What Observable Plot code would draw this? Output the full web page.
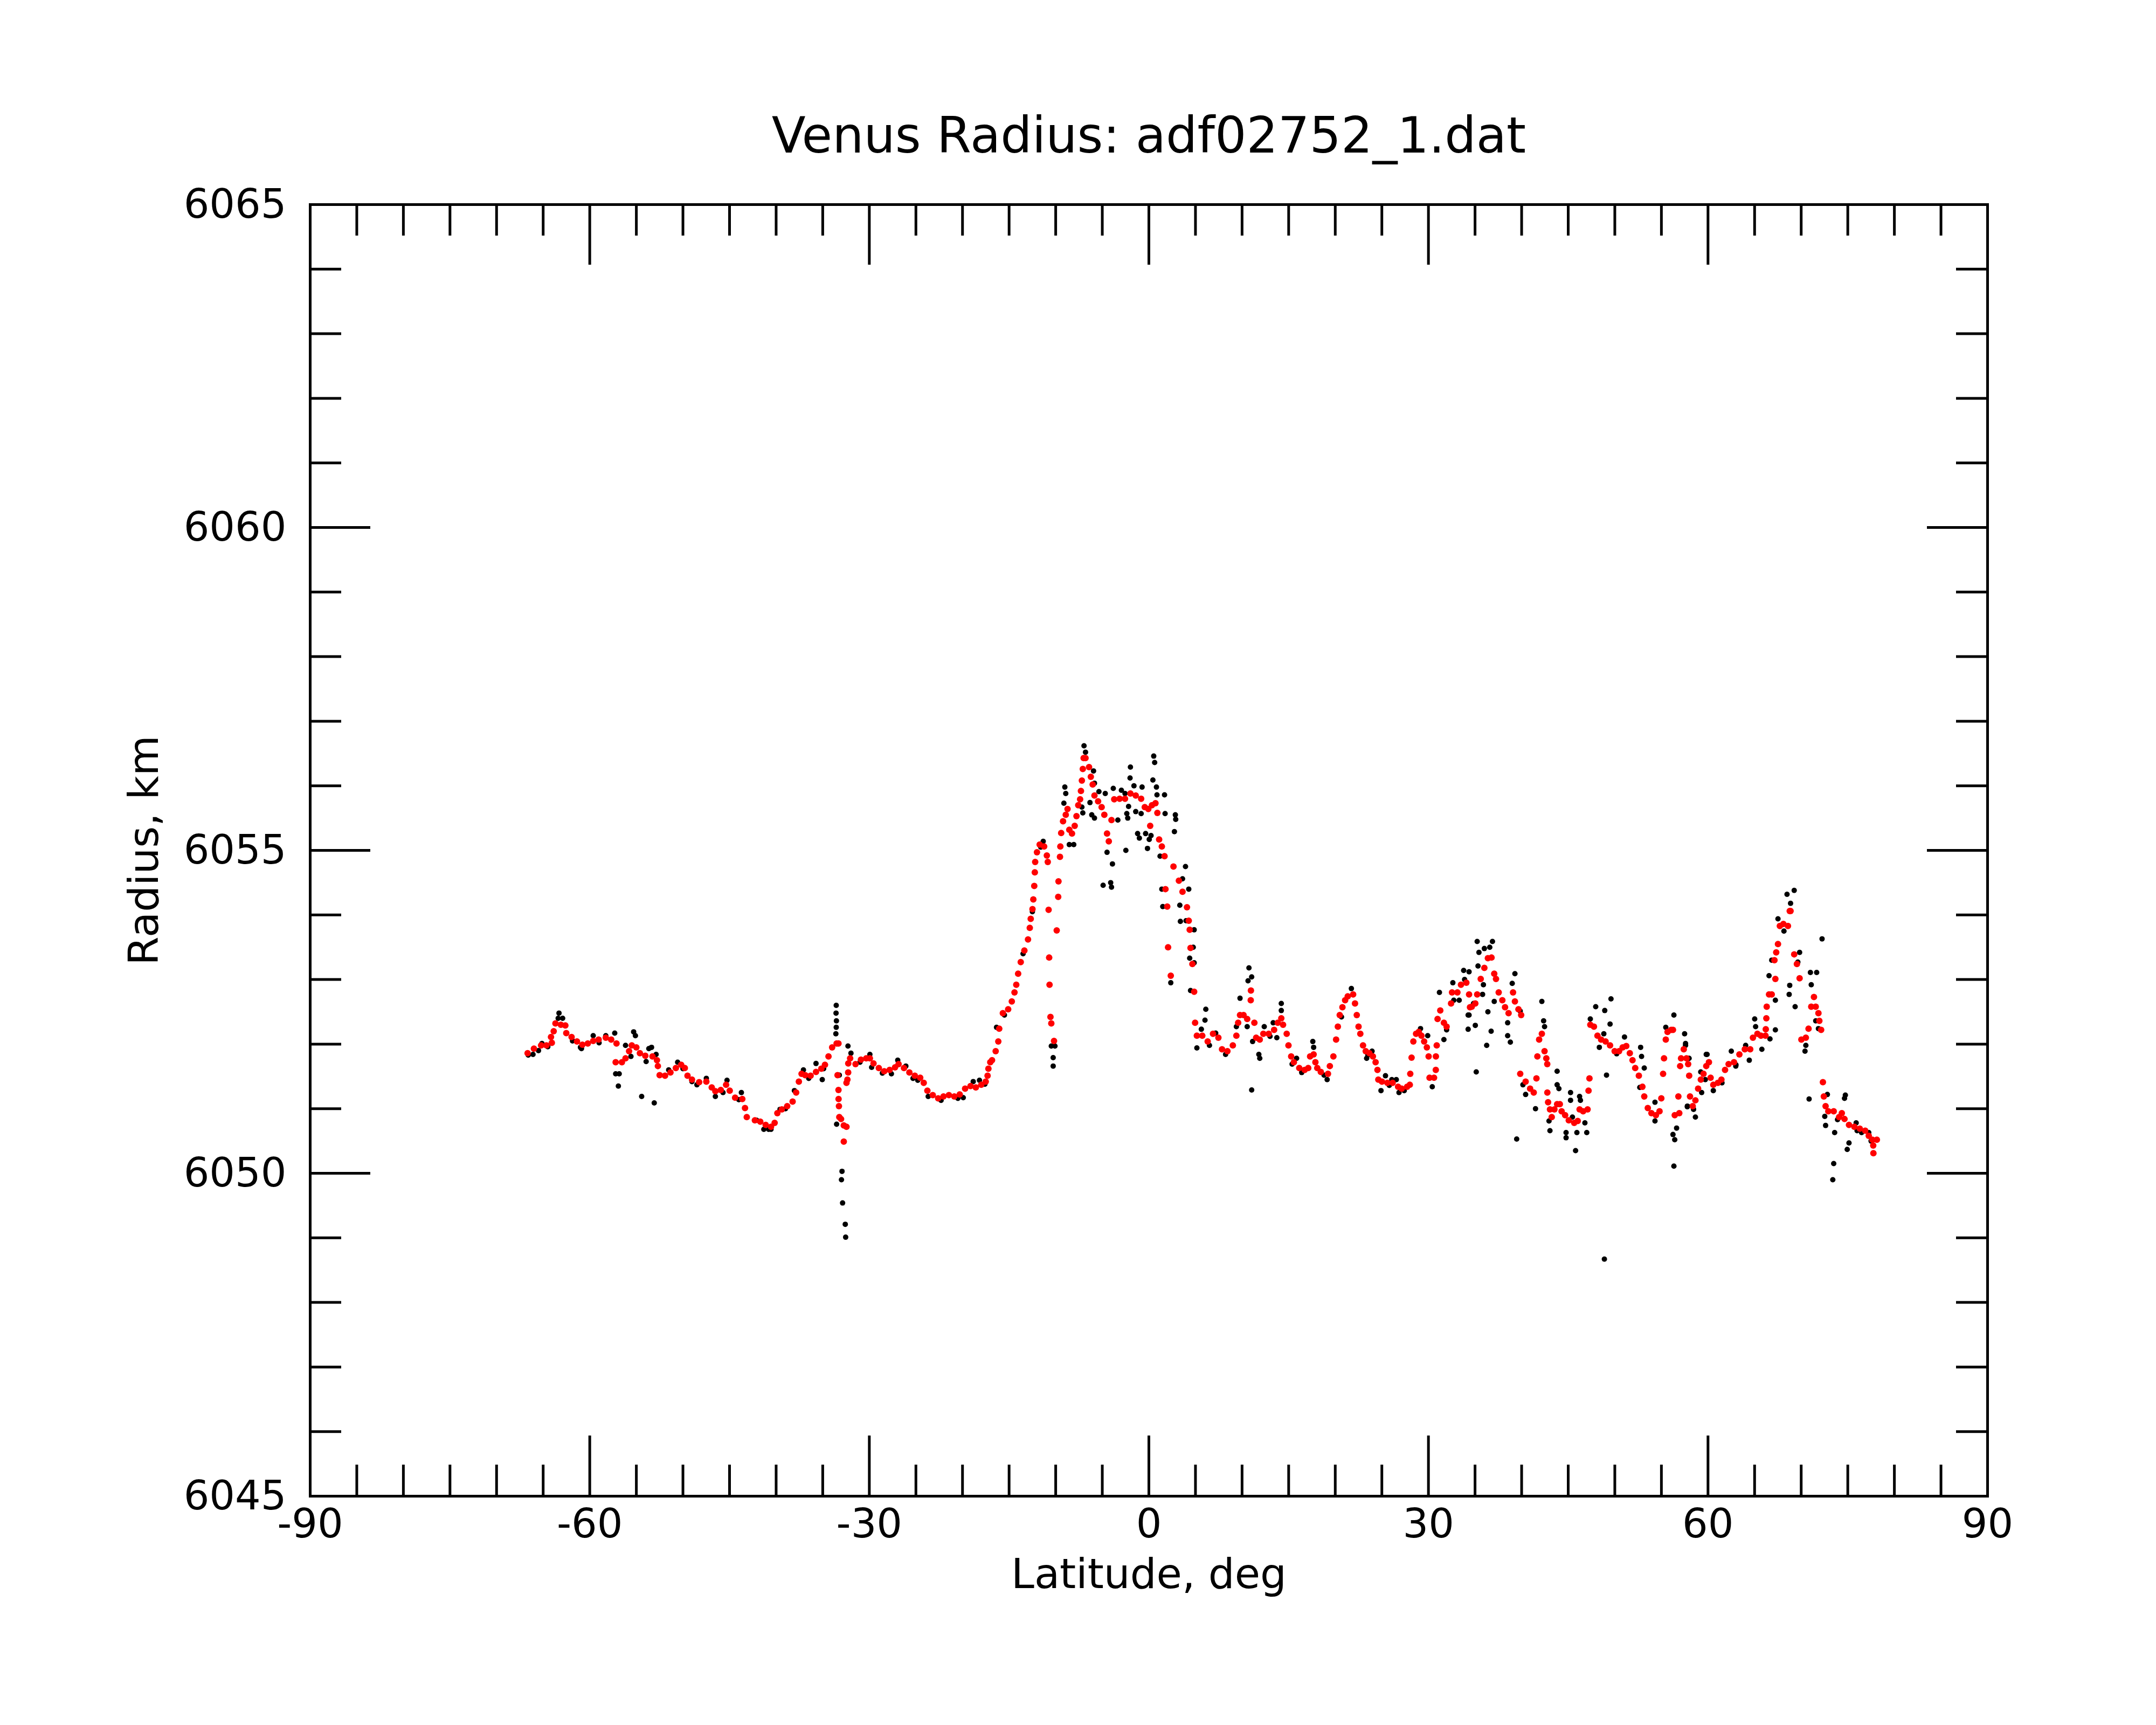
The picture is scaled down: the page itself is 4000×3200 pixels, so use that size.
<!DOCTYPE html>
<html>
<head>
<meta charset="utf-8">
<script src="https://cdn.jsdelivr.net/npm/d3@7"></script>
<script src="https://cdn.jsdelivr.net/npm/@observablehq/plot@0.6"></script>
<style>
  html, body { margin: 0; padding: 0; background: #ffffff; }
  svg { display: block; }
</style>
</head>
<body>
<script>
// ---------------- DATA ----------------
const titleText = "Venus Radius: adf02752_1.dat";
const xLabel = "Latitude, deg";
const yLabel = "Radius, km";

const xDomain = [-90, 90];
const yDomain = [6045, 6065];
const xMajorTicks = [-90, -60, -30, 0, 30, 60, 90];
const xMinorTicks = [-85, -80, -75, -70, -65, -55, -50, -45, -40, -35, -25, -20, -15, -10, -5, 5, 10, 15, 20, 25, 35, 40, 45, 50, 55, 65, 70, 75, 80, 85];
const yMajorTicks = [6045, 6050, 6055, 6060, 6065];
const yMinorTicks = [6046, 6047, 6048, 6049, 6051, 6052, 6053, 6054, 6056, 6057, 6058, 6059, 6061, 6062, 6063, 6064];

// smoothed radius (red) : [latitude, radius]
const redSmoothed = [
  [-66.67, 6051.86], [-65.99, 6051.93], [-65.22, 6051.98], [-64.65, 6051.98], [-64.16, 6052.11],
  [-64.07, 6052.02], [-63.87, 6052.20], [-63.68, 6052.32], [-63.10, 6052.30], [-62.62, 6052.29],
  [-62.52, 6052.17], [-61.95, 6052.11], [-61.37, 6052.04], [-60.79, 6051.99], [-60.21, 6052.01],
  [-59.63, 6052.05], [-59.05, 6052.07], [-58.28, 6052.10], [-57.70, 6052.07], [-57.13, 6052.01],
  [-57.22, 6051.72], [-56.55, 6051.72], [-56.16, 6051.78], [-55.78, 6051.89], [-55.49, 6051.98],
  [-55.00, 6051.95], [-54.62, 6051.86], [-54.04, 6051.82], [-53.27, 6051.81], [-52.79, 6051.75],
  [-52.69, 6051.66], [-52.50, 6051.52], [-51.92, 6051.51], [-51.34, 6051.56], [-50.76, 6051.63],
  [-50.19, 6051.68], [-49.80, 6051.63], [-49.51, 6051.51], [-49.03, 6051.45], [-48.26, 6051.41],
  [-47.49, 6051.42], [-46.91, 6051.33], [-46.52, 6051.27], [-45.94, 6051.29], [-45.37, 6051.37],
  [-44.98, 6051.28], [-44.40, 6051.17], [-43.63, 6051.15], [-43.34, 6051.01], [-43.15, 6050.87],
  [-42.28, 6050.82], [-41.70, 6050.80], [-41.12, 6050.75], [-40.55, 6050.72], [-40.16, 6050.78],
  [-39.87, 6050.93], [-39.39, 6050.99], [-38.81, 6051.04], [-38.23, 6051.11], [-37.85, 6051.25],
  [-37.56, 6051.42], [-37.27, 6051.54], [-36.88, 6051.52], [-36.30, 6051.51], [-35.72, 6051.57],
  [-35.15, 6051.62], [-34.76, 6051.68], [-34.38, 6051.81], [-33.99, 6051.95], [-33.51, 6052.01],
  [-33.31, 6052.01], [-33.41, 6051.52], [-33.31, 6051.29], [-33.30, 6051.15], [-33.26, 6051.04],
  [-33.22, 6050.87], [-33.03, 6050.84], [-32.74, 6050.74], [-32.45, 6050.72], [-32.74, 6050.49],
  [-32.45, 6051.40], [-32.35, 6051.45], [-32.27, 6051.56], [-32.26, 6051.70], [-32.06, 6051.78],
  [-31.48, 6051.69], [-30.90, 6051.76], [-30.33, 6051.78], [-29.94, 6051.78], [-29.55, 6051.70],
  [-28.98, 6051.63], [-28.40, 6051.58], [-27.82, 6051.60], [-27.24, 6051.64], [-26.86, 6051.69],
  [-26.28, 6051.63], [-25.70, 6051.56], [-25.12, 6051.51], [-24.54, 6051.48], [-24.16, 6051.40],
  [-23.77, 6051.28], [-23.19, 6051.21], [-22.61, 6051.16], [-22.04, 6051.19], [-21.46, 6051.21],
  [-20.88, 6051.19], [-20.30, 6051.22], [-19.72, 6051.31], [-19.14, 6051.35], [-18.57, 6051.33],
  [-17.99, 6051.37], [-17.51, 6051.42], [-17.31, 6051.51], [-17.22, 6051.62], [-17.02, 6051.72],
  [-16.83, 6051.75], [-16.44, 6051.89], [-16.16, 6052.04], [-16.06, 6052.24], [-15.67, 6052.48],
  [-15.10, 6052.54], [-14.71, 6052.66], [-14.42, 6052.80], [-14.23, 6052.92], [-14.03, 6053.09],
  [-13.75, 6053.27], [-13.36, 6053.45], [-12.97, 6053.62], [-12.78, 6053.80], [-12.68, 6053.94],
  [-12.49, 6054.09], [-12.40, 6054.24], [-12.30, 6054.45], [-12.24, 6054.66], [-12.20, 6054.82],
  [-12.01, 6054.97], [-11.72, 6055.09], [-11.24, 6055.06], [-10.95, 6054.92], [-10.85, 6054.82],
  [-10.76, 6054.08], [-10.70, 6053.34], [-10.66, 6052.92], [-10.56, 6052.42], [-10.47, 6052.32],
  [-10.18, 6052.05], [-9.89, 6053.76], [-9.73, 6054.28], [-9.70, 6054.52], [-9.54, 6054.90],
  [-9.50, 6055.06], [-9.41, 6055.27], [-9.21, 6055.45], [-8.92, 6055.55], [-8.73, 6055.64],
  [-8.54, 6055.32], [-8.25, 6055.26], [-7.96, 6055.38], [-7.77, 6055.53], [-7.58, 6055.70],
  [-7.38, 6055.79], [-7.29, 6055.92], [-7.19, 6056.08], [-7.09, 6056.26], [-7.00, 6056.43],
  [-6.80, 6056.43], [-6.42, 6056.29], [-6.23, 6056.14], [-6.03, 6056.02], [-5.84, 6055.85],
  [-5.45, 6055.76], [-5.07, 6055.67], [-4.78, 6055.55], [-4.49, 6055.26], [-4.30, 6055.14],
  [-4.01, 6055.47], [-3.72, 6055.79], [-3.14, 6055.80], [-2.56, 6055.80], [-1.98, 6055.88],
  [-1.41, 6055.85], [-0.83, 6055.80], [-0.44, 6055.67], [-0.06, 6055.64], [0.14, 6055.38],
  [0.33, 6055.70], [0.71, 6055.73], [0.91, 6055.58], [1.10, 6055.17], [1.39, 6055.06],
  [1.68, 6054.91], [1.78, 6054.40], [1.97, 6054.13], [2.06, 6053.50], [2.35, 6053.06],
  [2.64, 6054.75], [3.22, 6054.53], [3.61, 6054.36], [4.09, 6054.12], [4.28, 6053.91],
  [4.38, 6053.77], [4.47, 6053.49], [4.67, 6053.24], [4.86, 6052.81], [4.96, 6052.33],
  [5.15, 6052.13], [5.73, 6052.13], [6.31, 6052.04], [6.88, 6052.16], [7.46, 6052.10],
  [7.85, 6051.92], [8.43, 6051.89], [9.01, 6051.98], [9.39, 6052.13], [9.58, 6052.33],
  [9.78, 6052.45], [10.16, 6052.45], [10.55, 6052.39], [10.93, 6052.68], [10.95, 6052.83],
  [11.32, 6052.33], [11.51, 6052.10], [11.90, 6052.07], [12.28, 6052.16], [12.86, 6052.16],
  [13.44, 6052.22], [13.83, 6052.33], [14.21, 6052.40], [14.40, 6052.30], [14.79, 6052.16],
  [14.98, 6051.98], [15.27, 6051.81], [15.56, 6051.72], [16.14, 6051.63], [16.72, 6051.60],
  [17.10, 6051.63], [17.30, 6051.81], [17.68, 6051.84], [17.87, 6051.72], [18.07, 6051.63],
  [18.45, 6051.57], [19.22, 6051.54], [19.42, 6051.66], [19.80, 6051.81], [20.09, 6052.07],
  [20.28, 6052.27], [20.48, 6052.45], [20.77, 6052.57], [21.06, 6052.68], [21.34, 6052.74],
  [21.92, 6052.77], [22.12, 6052.63], [22.31, 6052.45], [22.50, 6052.27], [22.69, 6052.16],
  [22.98, 6051.98], [23.27, 6051.89], [23.66, 6051.86], [24.04, 6051.81], [24.33, 6051.72],
  [24.53, 6051.60], [24.62, 6051.45], [25.01, 6051.42], [25.59, 6051.40], [26.16, 6051.40],
  [26.74, 6051.34], [27.13, 6051.31], [27.71, 6051.34], [28.00, 6051.37], [28.05, 6051.54],
  [28.19, 6051.79], [28.38, 6052.04], [28.67, 6052.16], [28.96, 6052.19], [29.25, 6052.13],
  [29.54, 6052.04], [29.83, 6051.95], [30.02, 6051.81], [30.12, 6051.48], [30.60, 6051.48],
  [30.79, 6051.60], [30.80, 6051.81], [30.89, 6051.98], [30.98, 6052.39], [31.27, 6052.52],
  [31.66, 6052.33], [31.95, 6052.27], [32.43, 6052.63], [32.53, 6052.80], [33.11, 6052.80],
  [33.49, 6052.92], [34.07, 6052.95], [34.36, 6052.77], [34.46, 6052.57], [34.65, 6052.58],
  [35.03, 6052.63], [35.23, 6052.77], [35.61, 6053.01], [36.00, 6053.18], [36.38, 6053.33],
  [36.77, 6053.34], [37.06, 6053.09], [37.25, 6053.01], [37.54, 6052.80], [37.93, 6052.68],
  [38.22, 6052.57], [38.60, 6052.48], [39.08, 6052.80], [39.28, 6052.66], [39.66, 6052.54],
  [39.95, 6052.45], [39.85, 6051.54], [40.43, 6051.42], [40.91, 6051.31], [41.30, 6051.25],
  [41.59, 6051.47], [41.69, 6051.81], [41.88, 6052.07], [42.17, 6052.16], [42.46, 6051.89],
  [42.65, 6051.78], [42.75, 6051.69], [42.76, 6051.25], [42.84, 6051.10], [43.04, 6050.99],
  [43.23, 6050.87], [43.52, 6050.99], [43.81, 6051.07], [44.10, 6051.07], [44.29, 6050.96],
  [44.67, 6050.90], [45.06, 6050.82], [45.64, 6050.78], [46.02, 6050.81], [46.22, 6050.99],
  [46.60, 6050.96], [47.08, 6050.99], [47.18, 6051.28], [47.28, 6051.47], [47.37, 6052.30],
  [47.76, 6052.27], [48.14, 6052.13], [48.53, 6052.07], [49.01, 6052.04], [49.49, 6051.98],
  [49.98, 6051.89], [50.46, 6051.89], [50.84, 6051.95], [51.23, 6051.97], [51.61, 6051.86],
  [51.90, 6051.75], [52.19, 6051.63], [52.58, 6051.51], [52.96, 6051.34], [53.16, 6051.19],
  [53.54, 6051.01], [53.93, 6050.93], [54.41, 6050.90], [54.80, 6050.96], [54.99, 6051.16],
  [55.18, 6051.54], [55.28, 6051.78], [55.47, 6052.07], [55.66, 6052.19], [56.05, 6052.22],
  [56.24, 6052.22], [56.43, 6050.90], [56.82, 6051.19], [56.92, 6050.93], [57.01, 6051.66],
  [57.11, 6051.78], [57.40, 6051.92], [57.69, 6051.78], [57.87, 6051.69], [57.98, 6051.51],
  [58.07, 6051.19], [58.36, 6051.04], [58.65, 6051.13], [58.94, 6051.31], [59.23, 6051.45],
  [59.52, 6051.54], [59.81, 6051.66], [60.10, 6051.72], [60.28, 6051.48], [60.57, 6051.37],
  [61.06, 6051.40], [61.44, 6051.45], [61.83, 6051.60], [62.21, 6051.69], [62.79, 6051.72],
  [63.37, 6051.84], [63.95, 6051.92], [64.53, 6051.92], [64.82, 6052.10], [65.30, 6052.16],
  [65.68, 6052.13], [66.17, 6052.13], [66.20, 6052.23], [66.26, 6052.40], [66.30, 6052.58],
  [66.55, 6052.77], [66.84, 6052.77], [67.13, 6053.30], [67.23, 6053.01], [67.32, 6053.42],
  [67.51, 6053.55], [67.71, 6053.83], [68.09, 6053.86], [68.58, 6053.83], [68.77, 6054.06],
  [68.86, 6054.06], [69.25, 6053.39], [69.54, 6053.24], [69.83, 6053.02], [70.02, 6052.07],
  [70.50, 6052.10], [70.79, 6052.24], [71.08, 6052.58], [71.37, 6052.73], [71.56, 6052.58],
  [71.85, 6052.48], [71.95, 6052.36], [72.14, 6052.22], [72.33, 6051.41], [72.43, 6051.19],
  [72.62, 6051.04], [72.91, 6050.96], [73.49, 6050.96], [74.07, 6050.87], [74.36, 6050.93],
  [74.65, 6050.84], [75.13, 6050.75], [75.71, 6050.72], [76.29, 6050.69], [76.87, 6050.66],
  [77.25, 6050.58], [77.64, 6050.52], [78.12, 6050.52], [77.73, 6050.43], [77.75, 6050.31]
];

// raw radius (black) : [latitude, radius]
const blackRaw = [
  [-66.60, 6051.83], [-66.09, 6051.84], [-65.50, 6051.90], [-65.13, 6052.01], [-64.50, 6051.96],
  [-63.30, 6052.48], [-63.39, 6052.40], [-62.91, 6052.40], [-61.85, 6052.05], [-61.00, 6051.95],
  [-60.89, 6051.93], [-59.63, 6052.13], [-59.00, 6052.02], [-58.28, 6052.13], [-57.32, 6052.17],
  [-56.16, 6051.98], [-55.29, 6052.19], [-55.10, 6052.13], [-55.58, 6051.81], [-57.22, 6051.54],
  [-56.84, 6051.54], [-56.93, 6051.35], [-54.43, 6051.19], [-53.08, 6051.09], [-53.95, 6051.73],
  [-53.66, 6051.93], [-53.37, 6051.95], [-52.88, 6051.84], [-51.53, 6051.60], [-50.57, 6051.72],
  [-50.00, 6051.62], [-49.03, 6051.42], [-48.50, 6051.37], [-47.49, 6051.47], [-46.52, 6051.19],
  [-45.70, 6051.25], [-45.27, 6051.44], [-44.00, 6051.14], [-43.73, 6051.25], [-42.09, 6050.82],
  [-41.32, 6050.68], [-40.80, 6050.68], [-40.55, 6050.68], [-39.58, 6050.99], [-39.00, 6051.00],
  [-38.04, 6051.28], [-37.07, 6051.60], [-36.50, 6051.47], [-35.72, 6051.70], [-35.05, 6051.45],
  [-34.90, 6051.62], [-33.55, 6052.60], [-33.57, 6052.48], [-33.53, 6052.36], [-33.55, 6052.26],
  [-33.59, 6052.16], [-33.22, 6051.52], [-33.51, 6050.76], [-32.93, 6050.03], [-32.99, 6049.90],
  [-32.87, 6049.54], [-32.58, 6049.21], [-32.54, 6049.01], [-32.29, 6051.97], [-31.97, 6051.86],
  [-31.00, 6051.72], [-29.94, 6051.84], [-29.75, 6051.64], [-28.60, 6051.55], [-27.63, 6051.54],
  [-26.95, 6051.75], [-26.08, 6051.66], [-25.31, 6051.47], [-24.80, 6051.44], [-23.68, 6051.19],
  [-22.30, 6051.13], [-20.50, 6051.16], [-19.92, 6051.17], [-18.85, 6051.42], [-18.18, 6051.44],
  [-17.60, 6051.38], [-16.35, 6052.26], [-15.50, 6052.45], [-13.50, 6053.40], [-12.50, 6054.05],
  [-11.60, 6055.05], [-11.34, 6055.14], [-10.47, 6051.97], [-10.27, 6051.79], [-10.27, 6051.66],
  [-10.08, 6051.97], [-9.02, 6055.98], [-8.92, 6055.88], [-9.12, 6055.73], [-8.54, 6055.09],
  [-8.06, 6055.09], [-7.09, 6055.58], [-7.19, 6055.67], [-6.96, 6056.62], [-6.80, 6056.52],
  [-5.94, 6056.23], [-5.84, 6056.04], [-6.32, 6055.74], [-6.13, 6055.55], [-5.84, 6055.50],
  [-5.36, 6055.91], [-4.68, 6055.88], [-4.49, 6054.97], [-3.91, 6054.79], [-4.91, 6054.46],
  [-4.10, 6054.50], [-4.01, 6054.43], [-3.82, 6055.96], [-3.33, 6055.47], [-2.95, 6055.93],
  [-2.56, 6055.88], [-2.37, 6055.57], [-2.27, 6055.50], [-2.47, 6055.00], [-1.98, 6056.29],
  [-2.02, 6056.12], [-2.18, 6055.68], [-1.60, 6056.00], [-1.41, 6055.60], [-1.21, 6055.26],
  [-1.02, 6055.19], [-0.73, 6055.98], [-0.83, 6055.57], [-0.35, 6055.26], [-0.15, 6055.03],
  [0.04, 6055.17], [0.23, 6055.23], [0.52, 6056.46], [0.62, 6056.36], [0.43, 6056.09],
  [0.81, 6055.98], [0.87, 6055.86], [1.68, 6055.86], [1.74, 6055.57], [1.20, 6054.91],
  [1.39, 6054.40], [1.49, 6054.13], [2.35, 6052.95], [2.84, 6055.55], [2.88, 6055.48],
  [2.74, 6055.29], [3.93, 6054.75], [3.61, 6054.56], [4.28, 6054.40], [3.32, 6054.15],
  [3.38, 6053.90], [3.99, 6053.91], [4.86, 6053.77], [4.76, 6053.50], [4.38, 6053.33],
  [4.86, 6053.26], [4.47, 6052.83], [6.11, 6052.54], [6.02, 6052.37], [5.63, 6052.23],
  [5.15, 6051.94], [6.50, 6051.98], [8.23, 6051.84], [7.17, 6052.17], [9.78, 6052.71],
  [10.74, 6053.18], [11.03, 6053.04], [10.64, 6052.98], [9.39, 6052.27], [10.55, 6052.27],
  [11.13, 6052.04], [11.80, 6051.84], [11.90, 6051.78], [11.03, 6051.29], [12.38, 6052.27],
  [13.00, 6052.12], [13.34, 6052.33], [13.73, 6052.10], [14.21, 6052.63], [14.21, 6052.52],
  [15.85, 6051.78], [15.37, 6051.69], [16.40, 6051.56], [17.59, 6052.04], [17.68, 6051.95],
  [18.80, 6051.52], [19.13, 6051.45], [20.67, 6052.42], [21.73, 6052.86], [23.37, 6051.78],
  [23.50, 6051.83], [23.95, 6051.89], [24.91, 6051.28], [25.39, 6051.51], [25.80, 6051.36],
  [26.07, 6051.45], [26.55, 6051.45], [26.84, 6051.25], [27.40, 6051.28], [29.15, 6052.24],
  [29.92, 6052.13], [30.41, 6051.34], [31.18, 6052.80], [31.66, 6052.07], [31.95, 6052.22],
  [32.62, 6052.95], [32.72, 6052.68], [33.30, 6052.68], [33.78, 6053.14], [33.88, 6053.00],
  [34.26, 6052.45], [34.26, 6052.23], [35.23, 6053.59], [35.42, 6053.42], [36.00, 6053.48],
  [36.87, 6053.59], [36.58, 6053.50], [35.32, 6053.21], [34.36, 6053.12], [35.90, 6052.92],
  [35.81, 6052.77], [34.84, 6052.63], [34.36, 6052.45], [35.03, 6052.29], [36.38, 6052.50],
  [36.73, 6052.20], [36.25, 6051.98], [35.13, 6051.57], [37.06, 6052.66], [38.50, 6052.33],
  [38.50, 6052.13], [38.79, 6052.03], [38.99, 6052.94], [39.28, 6053.09], [39.85, 6052.51],
  [40.14, 6051.37], [40.43, 6051.22], [41.49, 6051.00], [39.47, 6050.53], [42.17, 6052.66],
  [42.36, 6052.36], [42.46, 6052.27], [43.81, 6051.58], [43.81, 6051.37], [44.00, 6051.31],
  [42.94, 6050.81], [43.04, 6050.66], [44.77, 6050.63], [44.77, 6050.55], [45.25, 6051.25],
  [45.25, 6051.13], [45.45, 6050.87], [45.93, 6050.63], [45.79, 6050.35], [46.22, 6051.19],
  [46.31, 6051.13], [46.79, 6050.78], [46.99, 6050.63], [47.37, 6052.39], [47.95, 6052.58],
  [48.92, 6052.52], [49.59, 6052.70], [49.49, 6052.31], [48.82, 6052.16], [48.34, 6051.95],
  [49.11, 6051.52], [48.88, 6048.67], [50.20, 6051.85], [51.04, 6052.11], [52.77, 6051.95],
  [52.87, 6051.81], [53.16, 6051.63], [52.68, 6051.33], [54.31, 6051.10], [54.31, 6050.81],
  [55.47, 6052.26], [56.34, 6052.45], [56.24, 6050.60], [56.43, 6050.52], [56.63, 6050.70],
  [56.34, 6050.11], [57.49, 6052.16], [57.59, 6051.98], [57.79, 6051.04], [58.65, 6050.87],
  [59.81, 6051.84], [59.71, 6051.45], [57.59, 6052.01], [57.97, 6051.78], [57.78, 6051.03],
  [58.45, 6050.99], [59.90, 6051.84], [59.22, 6051.57], [59.32, 6051.25], [60.57, 6051.28],
  [61.50, 6051.40], [62.50, 6051.89], [62.98, 6051.66], [63.00, 6051.68], [64.04, 6051.98],
  [64.43, 6051.75], [65.01, 6052.39], [65.11, 6052.27], [65.78, 6051.92], [66.65, 6052.08],
  [67.23, 6052.22], [66.55, 6053.06], [67.23, 6052.68], [66.84, 6053.30], [67.51, 6053.94],
  [68.15, 6053.75], [68.48, 6054.32], [69.25, 6054.38], [68.86, 6054.18], [68.77, 6052.91],
  [68.71, 6052.77], [69.35, 6052.58], [69.83, 6053.42], [69.64, 6053.27], [70.41, 6051.89],
  [70.50, 6051.98], [70.85, 6051.15], [70.99, 6053.11], [71.66, 6053.11], [71.08, 6052.92],
  [72.24, 6053.63], [71.56, 6052.36], [71.85, 6052.24], [72.81, 6051.22], [72.53, 6050.88],
  [72.62, 6050.74], [73.59, 6050.63], [73.49, 6050.15], [73.39, 6049.90], [73.90, 6050.83],
  [74.74, 6051.21], [74.65, 6051.16], [75.13, 6050.47], [74.94, 6050.37], [75.90, 6050.78],
  [76.00, 6050.66], [76.48, 6050.63], [77.25, 6050.63], [77.50, 6050.50]
];

// ---------------- LAYOUT ----------------
const W = 4000, H = 3200;
const M = {top: 379, right: 313, bottom: 425, left: 575};
const plotW = W - M.left - M.right;
const plotH = H - M.top - M.bottom;
const majorLen = 112, minorLen = 58;
const axisStroke = 5;
const font = "DejaVu Sans";

const toRows = arr => arr.map(([lat, rad]) => ({lat, rad}));

const chart = Plot.plot({
  width: W,
  height: H,
  marginTop: M.top,
  marginRight: M.right,
  marginBottom: M.bottom,
  marginLeft: M.left,
  x: {domain: xDomain, axis: null},
  y: {domain: yDomain, axis: null},
  style: {fontFamily: font, background: "#ffffff", color: "#000000", overflow: "visible"},
  marks: [
    Plot.dot(toRows(blackRaw), {x: "lat", y: "rad", r: 5, fill: "#000000"}),
    Plot.dot(toRows(redSmoothed), {x: "lat", y: "rad", r: 6, fill: "#ff0000"}),

    // x ticks, bottom and top (inward)
    Plot.tickX(xMinorTicks, {x: d => d, insetTop: plotH - minorLen, stroke: "#000", strokeWidth: axisStroke}),
    Plot.tickX(xMinorTicks, {x: d => d, insetBottom: plotH - minorLen, stroke: "#000", strokeWidth: axisStroke}),
    Plot.tickX(xMajorTicks, {x: d => d, insetTop: plotH - majorLen, stroke: "#000", strokeWidth: axisStroke}),
    Plot.tickX(xMajorTicks, {x: d => d, insetBottom: plotH - majorLen, stroke: "#000", strokeWidth: axisStroke}),
    // y ticks, left and right (inward)
    Plot.tickY(yMinorTicks, {y: d => d, insetRight: plotW - minorLen, stroke: "#000", strokeWidth: axisStroke}),
    Plot.tickY(yMinorTicks, {y: d => d, insetLeft: plotW - minorLen, stroke: "#000", strokeWidth: axisStroke}),
    Plot.tickY(yMajorTicks, {y: d => d, insetRight: plotW - majorLen, stroke: "#000", strokeWidth: axisStroke}),
    Plot.tickY(yMajorTicks, {y: d => d, insetLeft: plotW - majorLen, stroke: "#000", strokeWidth: axisStroke}),

    Plot.frame({stroke: "#000", strokeWidth: axisStroke}),

    // tick labels
    Plot.text(xMajorTicks, {x: d => d, text: d => String(d), frameAnchor: "bottom", lineAnchor: "top",
      textAnchor: "middle", dy: 23, fontSize: 75, fill: "#000"}),
    Plot.text(yMajorTicks, {y: d => d, text: d => String(d), frameAnchor: "left", lineAnchor: "middle",
      textAnchor: "end", dx: -44, fontSize: 75, fill: "#000"}),

    // title and axis labels
    Plot.text([titleText], {text: d => d, frameAnchor: "top", lineAnchor: "bottom", textAnchor: "middle",
      dy: -97, fontSize: 92, fill: "#000"}),
    Plot.text([xLabel], {text: d => d, frameAnchor: "bottom", lineAnchor: "bottom", textAnchor: "middle",
      dy: 170, fontSize: 77, fill: "#000"}),
    Plot.text([yLabel], {text: d => d, frameAnchor: "left", lineAnchor: "bottom", textAnchor: "middle",
      rotate: -90, dx: -283, fontSize: 77, fill: "#000"})
  ]
});

document.body.appendChild(chart);
</script>
</body>
</html>
